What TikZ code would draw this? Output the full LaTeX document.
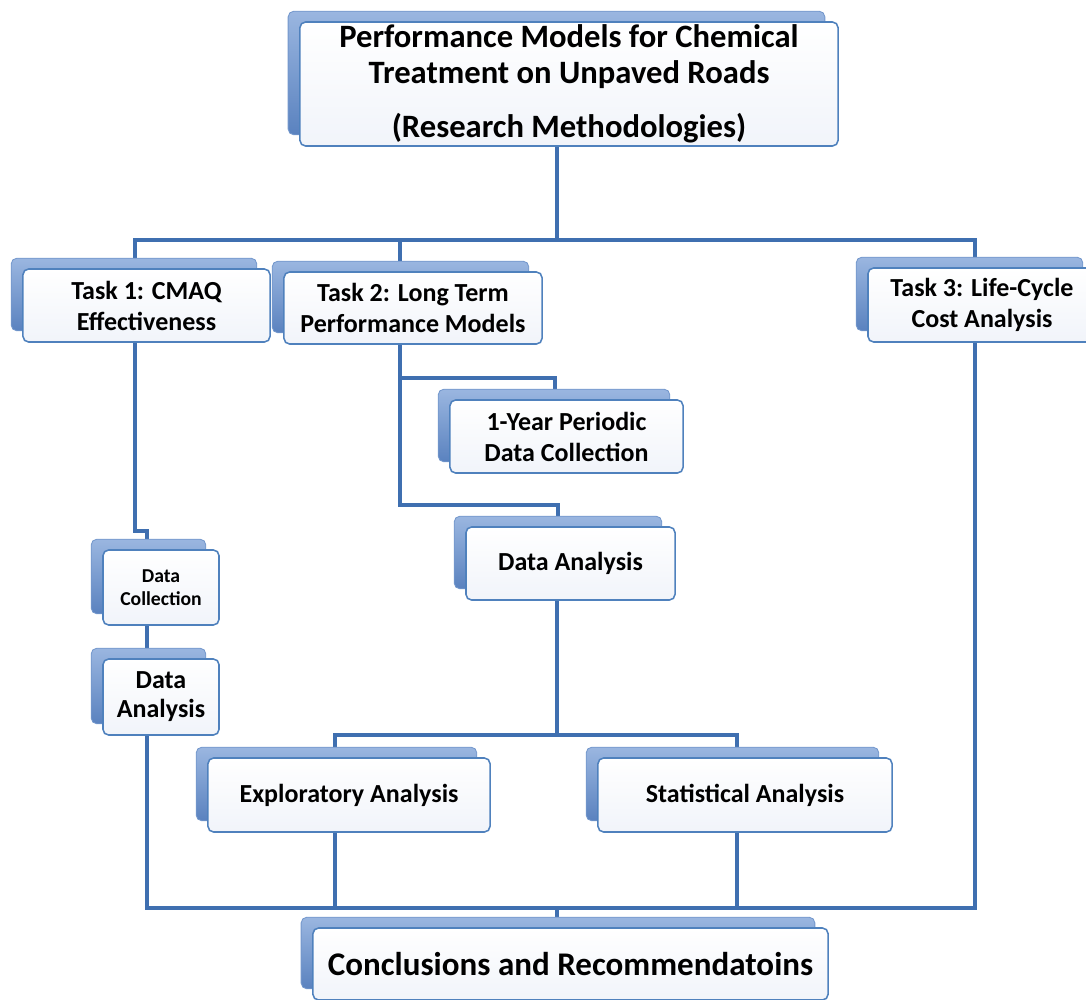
\documentclass[tikz,border=0pt]{standalone}
\usepackage{fontspec}
\setmainfont{Carlito}
\usepackage{tikz}
\usetikzlibrary{positioning, calc, backgrounds}
\definecolor{LinkBlu} {HTML}{3F6FB0}
\definecolor{EdgeBlu} {HTML}{4F81BD}
\definecolor{BoxLo}   {HTML}{F1F4FA}
\definecolor{BackLt}  {HTML}{9AB6E0}
\definecolor{BackDk}  {HTML}{5A82BF}
\definecolor{BackEdge}{HTML}{7397CC}

\begin{document}
\begin{tikzpicture}[x=0.025cm, y=-0.025cm,
    box/.style={draw=EdgeBlu, line width=1.1pt, rounded corners=4pt,
      top color=white, bottom color=BoxLo, align=center, inner sep=0pt,
      font=\fontsize{18.5}{22}\selectfont\bfseries},
    backbox/.style={draw=BackEdge, line width=0.6pt, rounded corners=4pt,
      top color=BackLt, bottom color=BackDk},
    link/.style={draw=LinkBlu, line width=2.5pt}]
      \useasboundingbox (0,0) rectangle (1086,1000);

      % ── boxes ───────────────────────────────────────────────────────────────
      \node[box, minimum width=13.45cm, minimum height=3.1cm,
        font=\fontsize{23.2}{25.6}\selectfont\bfseries] (top) at (569,84)
        {Performance Models for Chemical\\Treatment on Unpaved Roads\\[13pt](Research Methodologies)};
      \node[box, minimum width=6.175cm, minimum height=1.825cm] (t1) at (146.5,305.5)
        {Task 1: CMAQ\\Effectiveness};
      \node[box, minimum width=6.45cm, minimum height=1.8cm] (t2) at (413,308)
        {Task 2: Long Term\\Performance Models};
      \node[box, minimum width=5.7cm, minimum height=1.85cm] (t3) at (982,305)
        {Task 3: Life-Cycle\\Cost Analysis};
      \node[box, minimum width=5.825cm, minimum height=1.825cm] (yr) at (566.5,436.5)
        {1-Year Periodic\\Data Collection};
      \node[box, minimum width=5.225cm, minimum height=1.825cm] (da2) at (570.5,563.5)
        {Data Analysis};
      \node[box, minimum width=2.9cm, minimum height=1.875cm,
        font=\fontsize{14}{16}\selectfont\bfseries] (dc1) at (161,587.5)
        {Data\\Collection};
      \node[box, minimum width=2.9cm, minimum height=1.9cm,
        font=\fontsize{18.5}{20.6}\selectfont\bfseries] (da1) at (161,697)
        {Data\\Analysis};
      \node[box, minimum width=7.05cm, minimum height=1.85cm] (exp) at (349,795)
        {Exploratory Analysis};
      \node[box, minimum width=7.35cm, minimum height=1.85cm] (stat) at (745,795)
        {Statistical Analysis};
      \node[box, minimum width=12.875cm, minimum height=1.8cm,
        font=\fontsize{23.5}{26}\selectfont\bfseries] (conc) at (570.5,964)
        {Conclusions and Recommendatoins};

      % ── junction points ─────────────────────────────────────────────────────
      \coordinate (busA)  at (557,240);
      \coordinate (busL)  at (135,240);
      \coordinate (busM)  at (400,240);
      \coordinate (busR)  at (975,240);
      \coordinate (kA)    at (400,378);
      \coordinate (kB)    at (400,505);
      \coordinate (yrIn)  at (555,378);
      \coordinate (daIn)  at (558,505);
      \coordinate (jog1)  at (135,531);
      \coordinate (jog2)  at (147,531);
      \coordinate (busB)  at (557,735);
      \coordinate (busBL) at (335,735);
      \coordinate (busBR) at (737,735);
      \coordinate (busC)  at (557,908);
      \coordinate (busCL) at (147,908);
      \coordinate (busCR) at (975,908);
      \coordinate (busC1) at (335,908);
      \coordinate (busC2) at (737,908);

      \begin{pgfonlayer}{background}
        % ── connectors ────────────────────────────────────────────────────────
        \draw[link] (top.south -| busA) -- (busA);
        \draw[link] (t1.north -| busL) -- (busL) -- (busR) -- (t3.north -| busR);
        \draw[link] (t2.north -| busM) -- (busM);
        \draw[link] (t2.south -| kA) -- (kB) -- (daIn) -- (da2.north -| daIn);
        \draw[link] (kA) -- (yrIn) -- (yr.north -| yrIn);
        \draw[link] (t1.south -| jog1) -- (jog1) -- (jog2) -- (dc1.north -| jog2);
        \draw[link] (dc1.south -| jog2) -- (da1.north -| jog2);
        \draw[link] (da1.south -| jog2) -- (busCL) -- (busCR) -- (t3.south -| busCR);
        \draw[link] (da2.south -| busB) -- (busB);
        \draw[link] (exp.north -| busBL) -- (busBL) -- (busBR) -- (stat.north -| busBR);
        \draw[link] (exp.south -| busBL) -- (busC1);
        \draw[link] (stat.south -| busBR) -- (busC2);
        \draw[link] (busC) -- (conc.north -| busC);
        % ── stacked back boxes ────────────────────────────────────────────────
        \foreach \n in {top,t1,t2,t3,yr,da2,dc1,da1,exp,stat,conc} {
          \shade[backbox] ([shift={(-11,-10)}]\n.north west)
            rectangle ([shift={(-14,-12)}]\n.south east);
        }
      \end{pgfonlayer}
    \end{tikzpicture}
\end{document}
